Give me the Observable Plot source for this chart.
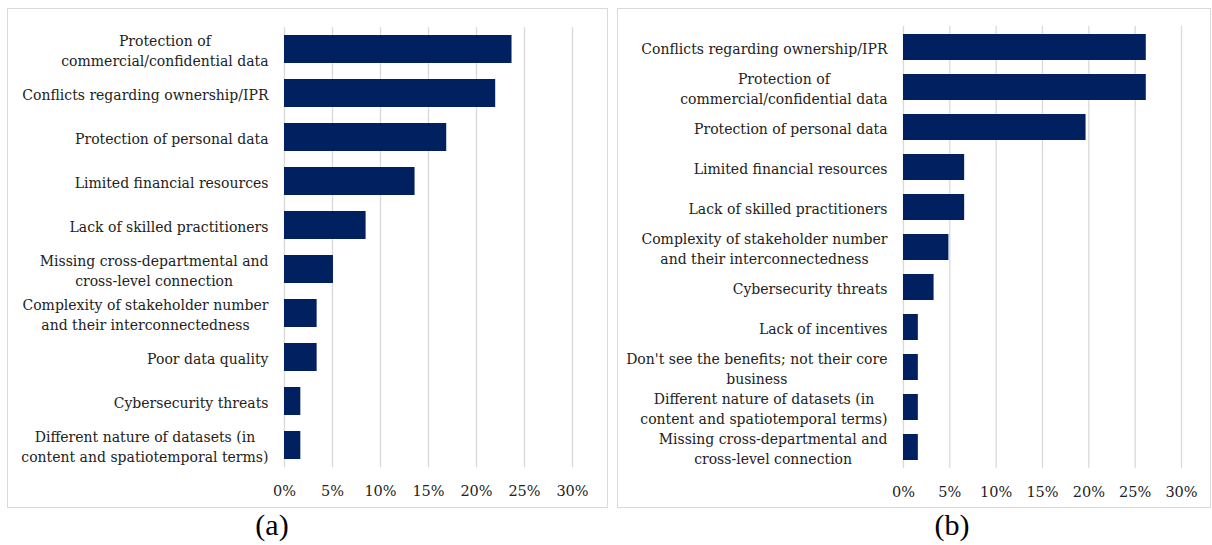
<!DOCTYPE html>
<html><head><meta charset="utf-8">
<script src="https://cdn.jsdelivr.net/npm/d3@7"></script>
<script src="https://cdn.jsdelivr.net/npm/@observablehq/plot@0.6"></script>
<style>
body{margin:0;background:#fff;}
#root{position:relative;width:1212px;height:545px;overflow:hidden;background:#fff;}
.panel{position:absolute;border:1px solid #d9d9d9;box-sizing:border-box;background:#fff;}
.panel svg{position:absolute;left:0;top:0;}
.cap{position:absolute;font-family:"Liberation Serif",serif;font-size:30px;line-height:30px;color:#000;transform:translateX(-50%);white-space:nowrap;}
</style></head>
<body><div id="root"></div>
<script>
const categoriesA = [
  "Protection of\ncommercial/confidential data",
  "Conflicts regarding ownership/IPR",
  "Protection of personal data",
  "Limited financial resources",
  "Lack of skilled practitioners",
  "Missing cross-departmental and\ncross-level connection",
  "Complexity of stakeholder number\nand their interconnectedness",
  "Poor data quality",
  "Cybersecurity threats",
  "Different nature of datasets (in\ncontent and spatiotemporal terms)"
];
const valuesA = [23.7, 22.0, 16.9, 13.6, 8.5, 5.1, 3.4, 3.4, 1.7, 1.7];

const categoriesB = [
  "Conflicts regarding ownership/IPR",
  "Protection of\ncommercial/confidential data",
  "Protection of personal data",
  "Limited financial resources",
  "Lack of skilled practitioners",
  "Complexity of stakeholder number\nand their interconnectedness",
  "Cybersecurity threats",
  "Lack of incentives",
  "Don't see the benefits; not their core\nbusiness",
  "Different nature of datasets (in\ncontent and spatiotemporal terms)",
  "Missing cross-departmental and\ncross-level connection"
];
const valuesB = [26.2, 26.2, 19.7, 6.6, 6.6, 4.9, 3.3, 1.6, 1.6, 1.6, 1.6];

const xTicks = [0, 5, 10, 15, 20, 25, 30];
const panelCaptions = ["(a)", "(b)"];

const BAR = "#002060";
const FONT = "DejaVu Serif";
const root = document.getElementById("root");

function makePanel(cats, vals, box, m, padInner, caption, capX) {
  const div = document.createElement("div");
  div.className = "panel";
  Object.assign(div.style, {left: box.x + "px", top: box.y + "px", width: box.w + "px", height: box.h + "px"});
  root.appendChild(div);
  const data = cats.map((c, i) => ({cat: c, value: vals[i]}));
  const chart = Plot.plot({
    width: box.w - 2,
    height: box.h - 2,
    marginLeft: m.l, marginRight: m.r, marginTop: m.t, marginBottom: m.b,
    style: {fontFamily: FONT, fontSize: "14px", color: "#222", background: "transparent"},
    x: {domain: [0, 30], axis: null},
    y: {domain: cats, paddingInner: padInner, paddingOuter: padInner / 2, axis: null},
    marks: [
      Plot.ruleX(xTicks, {stroke: "#d9d9d9", strokeWidth: 1.3}),
      Plot.barX(data, {x: "value", y: "cat", fill: BAR}),
      Plot.axisX(xTicks, {tickSize: 0, tickPadding: 18, tickFormat: d => d + "%", fontSize: 14.5, fill: "#222", label: null}),
      Plot.text(cats, {y: d => d, text: d => d, frameAnchor: "left", textAnchor: "end", dx: -16, lineHeight: 1.4, fill: "#222", fontSize: 14})
    ]
  });
  div.appendChild(chart);
  // centre the lines of wrapped labels within their block (block stays right-aligned)
  chart.querySelectorAll('g[aria-label="text"] text').forEach(t => {
    const spans = t.querySelectorAll("tspan");
    if (spans.length < 2) return;
    const w = Math.max(...[...spans].map(s => s.getComputedTextLength()));
    t.setAttribute("text-anchor", "middle");
    spans.forEach(s => s.setAttribute("x", (-w / 2).toFixed(2)));
  });
  const cap = document.createElement("div");
  cap.className = "cap";
  cap.textContent = caption;
  Object.assign(cap.style, {left: capX + "px", top: "510px"});
  root.appendChild(cap);
}

makePanel(categoriesA, valuesA, {x: 7, y: 8, w: 601, h: 500}, {l: 276, r: 35, t: 18, b: 40}, 0.36, panelCaptions[0], 272);
makePanel(categoriesB, valuesB, {x: 617, y: 8, w: 594, h: 500}, {l: 285, r: 29, t: 17, b: 39}, 0.35, panelCaptions[1], 952);
</script>
</body></html>
